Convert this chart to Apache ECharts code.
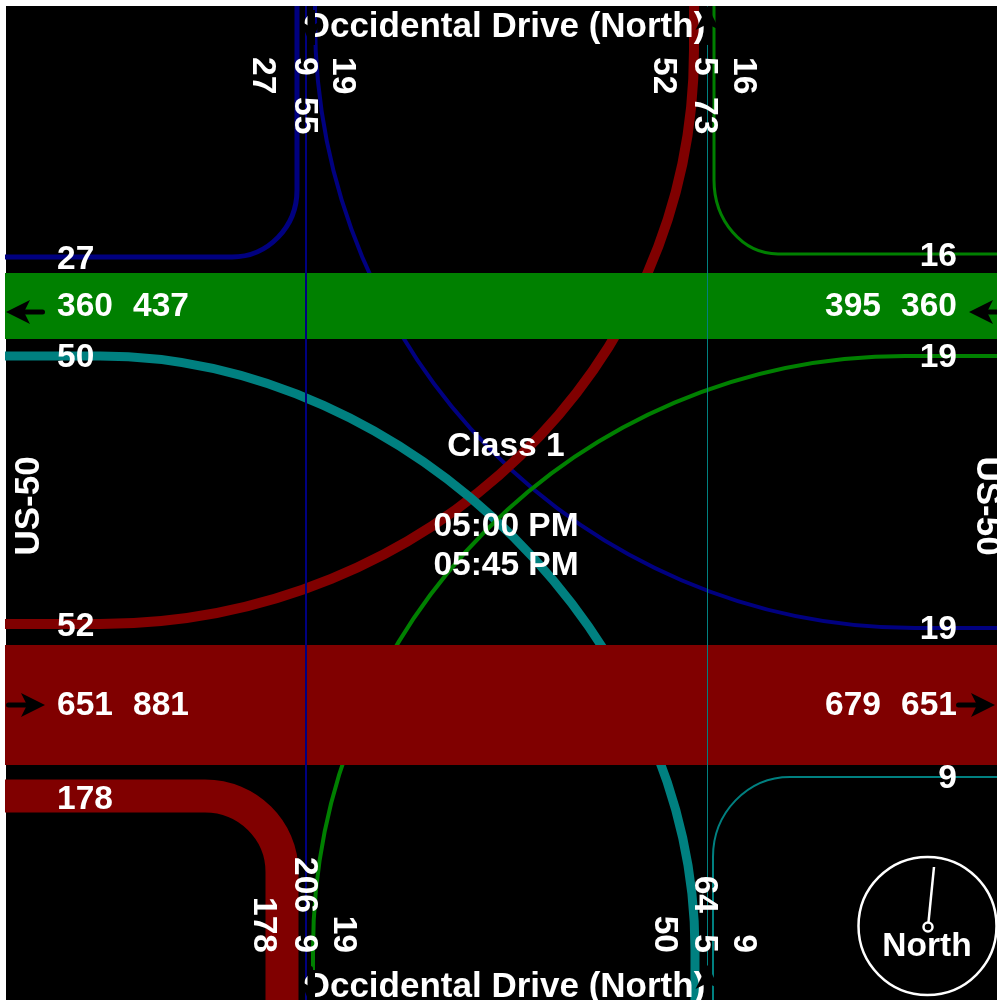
<!DOCTYPE html>
<html>
<head>
<meta charset="utf-8">
<title>Turning movements</title>
<script src="https://cdn.jsdelivr.net/npm/echarts@6/dist/echarts.min.js"></script>
<style>
html, body { margin: 0; padding: 0; background: #fff; overflow: hidden; }
#chart { width: 997px; height: 1000px; }
</style>
</head>
<body>
<div id="chart"></div>
<script>
// volumes per approach: [first turn, through, second turn]
var southbound = [27, 9, 19];
var eastbound = [52, 651, 178];
var westbound = [16, 360, 19];
var northbound = [50, 5, 9];

// approach totals
var northTotals = [55, 73];
var southTotals = [206, 64];
var westTotals = [437, 881];
var eastTotals = [395, 679];

var roadNames = ['Occidental Drive (North)', 'US-50'];
var centerLines = ['Class 1', '05:00 PM', '05:45 PM'];
var compassName = 'North';

var NAVY = '#000080', MAROON = '#800000', GREEN = '#008000', TEAL = '#008080';
var PX_PER_VEHICLE = 0.1835;
var FONT = 'bold 33.5px "Liberation Sans", Arial, sans-serif';
var ROAD_FONT = 'bold 35px "Liberation Sans", Arial, sans-serif';
var LEFT = 5, RIGHT = 997, TOP = 6, BOTTOM = 1000;

// a turn is: from a road edge along y, round a quarter ellipse, to a road edge along x
function turn(value, color, xEdge, y, xArc, x, yArc, yEdge, bend) {
    return { value: value, color: color, bend: bend || 0.5523, pts: [[xEdge, y], [xArc, y], [x, yArc], [x, yEdge]] };
}
function straight(value, color, a, b) {
    return { value: value, color: color, pts: [a, b] };
}

var movements = [
    turn(southbound[0], NAVY, LEFT, 257, 232, 297, 190, TOP),
    turn(southbound[2], NAVY, RIGHT, 628, 915, 315, 20, TOP),
    turn(eastbound[0], MAROON, LEFT, 624, 100, 694, 50, TOP),
    turn(eastbound[2], MAROON, LEFT, 796, 205, 282, 872, BOTTOM),
    turn(northbound[0], TEAL, LEFT, 356, 100, 695, 950, BOTTOM, 0.52),
    turn(northbound[2], TEAL, RIGHT, 777, 790, 713, 857, BOTTOM),
    turn(westbound[0], GREEN, RIGHT, 254, 778, 714, 180, TOP),
    turn(westbound[2], GREEN, RIGHT, 356, 905, 313, 950, BOTTOM),
    straight(westbound[1], GREEN, [LEFT, 306], [RIGHT, 306]),
    straight(eastbound[1], MAROON, [LEFT, 705], [RIGHT, 705]),
    straight(southbound[1], NAVY, [306, TOP], [306, BOTTOM]),
    straight(northbound[1], TEAL, [707.5, TOP], [707.5, BOTTOM])
];

// text, x, y, align, rotation (cw quarter turns), font
var labels = [
    [roadNames[0], 504, 27, 'center', 0, ROAD_FONT],
    [roadNames[0], 504, 987, 'center', 0, ROAD_FONT],
    [roadNames[1], 29, 506, 'center', -1, ROAD_FONT],
    [roadNames[1], 987, 506, 'center', 1, ROAD_FONT],
    [centerLines[0], 506, 447, 'center', 0],
    [centerLines[1], 506, 527, 'center', 0],
    [centerLines[2], 506, 566, 'center', 0],
    [compassName, 927, 947, 'center', 0],

    [southbound[0], 57, 260, 'left', 0],
    [westbound[1], 57, 307, 'left', 0],
    [westTotals[0], 133, 307, 'left', 0],
    [northbound[0], 57, 358, 'left', 0],
    [eastbound[0], 57, 627, 'left', 0],
    [eastbound[1], 57, 706, 'left', 0],
    [westTotals[1], 133, 706, 'left', 0],
    [eastbound[2], 57, 800, 'left', 0],

    [westbound[0], 957, 257, 'right', 0],
    [eastTotals[0], 881, 307, 'right', 0],
    [westbound[1], 957, 307, 'right', 0],
    [westbound[2], 957, 358, 'right', 0],
    [southbound[2], 957, 630, 'right', 0],
    [eastTotals[1], 881, 706, 'right', 0],
    [eastbound[1], 957, 706, 'right', 0],
    [northbound[2], 957, 779, 'right', 0],

    [southbound[0], 262, 57, 'left', 1],
    [southbound[1], 304, 57, 'left', 1],
    [southbound[2], 342, 57, 'left', 1],
    [northTotals[0], 304, 97, 'left', 1],
    [eastbound[0], 663, 57, 'left', 1],
    [northbound[1], 704, 57, 'left', 1],
    [westbound[0], 743, 57, 'left', 1],
    [northTotals[1], 704, 97, 'left', 1],

    [eastbound[2], 263, 953, 'right', 1],
    [southbound[1], 304, 953, 'right', 1],
    [westbound[2], 343, 953, 'right', 1],
    [southTotals[0], 304, 913, 'right', 1],
    [northbound[0], 664, 953, 'right', 1],
    [northbound[1], 704, 953, 'right', 1],
    [northbound[2], 743, 953, 'right', 1],
    [southTotals[1], 704, 913, 'right', 1]
];

// tip x, tip y, direction x, direction y, half width of the head
var arrows = [
    [6, 312, -1, 0, 12], [969, 312, -1, 0, 12],
    [45, 705, 1, 0, 12], [995, 705, 1, 0, 12],
    [310.5, 45, 0, 1, 10], [310.5, 1005, 0, 1, 10],
    [707.5, 6, 0, -1, 12], [707.5, 965, 0, -1, 12]
];

// black patches beside the southbound line, the reference loses the O there
var arrowShades = [
    [300, 10, 304.5, 40], [307.5, 10, 315, 45],
    [300, 972, 304.5, 1000], [307.5, 970, 315, 1000]
];

function renderMovement(params, api) {
    var m = movements[api.value(0)];
    var p = m.pts.map(function (pt) { return api.coord(pt); });
    var d = 'M' + p[0][0] + ' ' + p[0][1];
    if (p.length === 4) {
        var k = m.bend;
        var dx = p[2][0] - p[1][0];
        var dy = p[2][1] - p[1][1];
        d += 'L' + p[1][0] + ' ' + p[1][1];
        d += 'C' + (p[1][0] + k * dx) + ' ' + p[1][1] + ' ' + p[2][0] + ' ' + (p[2][1] - k * dy) + ' ' + p[2][0] + ' ' + p[2][1];
        d += 'L' + p[3][0] + ' ' + p[3][1];
    } else {
        d += 'L' + p[1][0] + ' ' + p[1][1];
    }
    return {
        type: 'path',
        shape: { pathData: d },
        style: { fill: 'none', stroke: m.color, lineWidth: Math.round(api.value(1) * PX_PER_VEHICLE + 0.3) }
    };
}

function renderLabel(params, api) {
    var l = labels[api.value(0)];
    var c = api.coord([l[1], l[2]]);
    return {
        type: 'text',
        x: c[0],
        y: c[1],
        rotation: -l[4] * Math.PI / 2,
        style: { text: String(l[0]), font: l[5] || FONT, fill: '#fff', align: l[3], verticalAlign: 'middle' }
    };
}

function renderArrow(params, api) {
    var a = arrows[api.value(0)];
    var dx = a[2], dy = a[3], w = a[4];
    function at(along, across) {
        // along = distance back from the tip
        return api.coord([a[0] - dx * along + dy * across, a[1] - dy * along + dx * across]);
    }
    return {
        type: 'group',
        children: [{
            type: 'polygon',
            shape: { points: [at(0, 0), at(24, w), at(18, 0), at(24, -w)] },
            style: { fill: '#000' }
        }, {
            type: 'line',
            shape: { x1: at(10, 0)[0], y1: at(10, 0)[1], x2: at(36.5, 0)[0], y2: at(36.5, 0)[1] },
            style: { stroke: '#000', lineWidth: 5, lineCap: 'round' }
        }]
    };
}

function renderShade(params, api) {
    var s = arrowShades[api.value(0)];
    var a = api.coord([s[0], s[1]]);
    var b = api.coord([s[2], s[3]]);
    return {
        type: 'rect',
        shape: { x: a[0], y: a[1], width: b[0] - a[0], height: b[1] - a[1] },
        style: { fill: '#000' }
    };
}

function renderCompass(params, api) {
    var c = api.coord([927.5, 926]);
    var hub = api.coord([928, 927]);
    var tip = api.coord([934, 867]);
    return {
        type: 'group',
        children: [{
            type: 'circle',
            shape: { cx: c[0], cy: c[1], r: 69 },
            style: { fill: 'none', stroke: '#fff', lineWidth: 2.5 }
        }, {
            type: 'line',
            shape: { x1: hub[0], y1: hub[1], x2: tip[0], y2: tip[1] },
            style: { stroke: '#fff', lineWidth: 2.5 }
        }, {
            type: 'circle',
            shape: { cx: hub[0], cy: hub[1], r: 4.5 },
            style: { fill: '#000', stroke: '#fff', lineWidth: 2.5 }
        }]
    };
}

function indexData(list, valueOf) {
    return list.map(function (item, i) { return [i, valueOf ? valueOf(item) : 0]; });
}

var option = {
    animation: false,
    backgroundColor: '#fff',
    grid: { left: 6, top: 6, right: 0, bottom: 0, show: true, backgroundColor: '#000', borderWidth: 0 },
    xAxis: { type: 'value', min: 6, max: 997, show: false },
    yAxis: { type: 'value', min: 6, max: 1000, inverse: true, show: false },
    series: [
        { type: 'custom', coordinateSystem: 'cartesian2d', silent: true, z: 2, renderItem: renderMovement,
          data: indexData(movements, function (m) { return m.value; }), clip: false },
        { type: 'custom', coordinateSystem: 'cartesian2d', silent: true, z: 3, renderItem: renderLabel,
          data: indexData(labels), clip: false },
        { type: 'custom', coordinateSystem: 'cartesian2d', silent: true, z: 4, renderItem: renderArrow,
          data: indexData(arrows), clip: false },
        { type: 'custom', coordinateSystem: 'cartesian2d', silent: true, z: 4, renderItem: renderShade,
          data: indexData(arrowShades), clip: false },
        { type: 'custom', coordinateSystem: 'cartesian2d', silent: true, z: 3, renderItem: renderCompass,
          data: [[0]], clip: false }
    ]
};

var chart = echarts.init(document.getElementById('chart'));
chart.setOption(option);
</script>
</body>
</html>
